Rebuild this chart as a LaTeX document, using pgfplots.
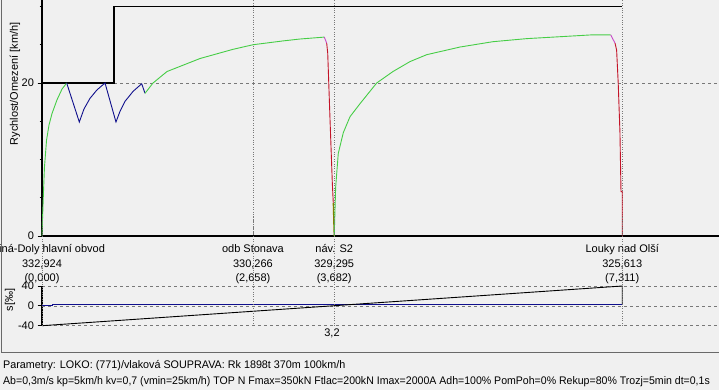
\documentclass[border=0pt]{standalone}
\usepackage{fontspec}
\setmainfont{Liberation Sans}
\usepackage{pgfplots}
\pgfplotsset{compat=1.18}
\definecolor{bg}{RGB}{240,240,240}
\definecolor{vgreen}{RGB}{70,205,70}
\definecolor{vblue}{RGB}{15,15,140}
\definecolor{vred}{RGB}{195,20,40}
\definecolor{vmag}{RGB}{200,70,200}
\definecolor{volive}{RGB}{128,128,0}
\definecolor{gridc}{RGB}{120,120,120}
\definecolor{framec}{RGB}{105,105,105}
\begin{document}
\begin{tikzpicture}[font=\fontsize{11}{13}\selectfont]
\fill[bg] (-20pt,-20pt) rectangle (740pt,410pt);
% ---------------- speed panel ----------------
\begin{axis}[
  at={(42pt,154pt)}, anchor=south west, scale only axis,
  width=677pt, height=236pt,
  xmin=0, xmax=8.53, ymin=0, ymax=30.85,
  axis x line*=bottom, axis y line*=left,
  x axis line style={line width=2.2pt, -},
  y axis line style={line width=1.2pt, -},
  xtick={0,2.658,3.682,7.311}, xticklabels={},
  xmajorgrids, major x grid style={gridc, dotted},
  x tick style={draw=none},
  ytick={0,20}, yticklabels={0,20}, minor ytick={5,10,15,25,30},
  tick align=outside, y tick style={black, line width=0.8pt},
  major tick length=4.5pt, minor tick length=2.5pt,
  extra y ticks={20}, extra y tick labels={},
  extra y tick style={grid=major, major grid style={gridc, dash pattern=on 3pt off 3pt}},
  clip=false,
  tick label style={font=\fontsize{11}{13}\selectfont},
]
% speed limit
\addplot[black, line width=1.5pt] coordinates {(0,20)(0.908,20)(0.908,30)(7.311,30)};
% run from start
\addplot[vgreen, line width=0.9pt] coordinates {
(0,0)(0.006,2)(0.016,5)(0.031,9)(0.057,12.5)(0.088,14.5)(0.126,16)(0.189,17.8)(0.252,19.2)(0.311,20)};
\addplot[vblue, line width=0.9pt] coordinates {
(0.311,20)(0.470,14.9)(0.529,16.6)(0.605,18.0)(0.693,19.1)(0.794,20)
(0.932,14.9)(0.983,16.3)(1.046,17.6)(1.147,18.9)(1.256,19.9)(1.298,18.65)};
\addplot[vgreen, line width=0.9pt] coordinates {
(1.298,18.65)(1.399,20)(1.575,21.5)(1.991,23.2)(2.406,24.4)(2.658,25.0)(3.036,25.5)(3.251,25.75)(3.557,26.0)};
\addplot[vmag, line width=0.9pt] coordinates {(3.557,26.0)(3.587,25.2)};
\addplot[vred, line width=0.9pt] coordinates {(3.587,25.2)(3.600,23.9)(3.629,15.2)(3.658,6.9)(3.670,4.3)};
\addplot[volive, line width=1.2pt] coordinates {(3.670,4.3)(3.678,1.2)(3.682,0)};
% run after stop
\addplot[vgreen, line width=0.9pt] coordinates {
(3.682,0)(3.700,6.4)(3.733,10.8)(3.796,13.5)(3.881,15.6)(4.007,17.3)(4.217,20.0)(4.422,21.5)
(4.637,22.8)(4.847,23.7)(5.266,24.7)(5.682,25.4)(6.107,25.8)(6.526,26.05)(6.942,26.3)(7.165,26.3)};
\addplot[vmag, line width=0.9pt] coordinates {(7.165,26.3)(7.220,25.2)};
\addplot[vred, line width=0.9pt] coordinates {(7.220,25.2)(7.240,24.3)(7.260,20.0)(7.282,13.5)(7.295,5.8)(7.311,5.8)(7.311,0)};
% station labels
\node[anchor=base west, inner sep=0pt] at (axis cs:0,0) [xshift=-43pt, yshift=-17pt] {iná-Doly hlavní obvod};
\node[anchor=base, inner sep=0pt] at (axis cs:0,0) [yshift=-32pt] {332,924};
\node[anchor=base, inner sep=0pt] at (axis cs:0,0) [yshift=-46pt] {(0,000)};
\node[anchor=base, inner sep=0pt] at (axis cs:2.658,0) [yshift=-17pt] {odb Stonava};
\node[anchor=base, inner sep=0pt] at (axis cs:2.658,0) [yshift=-32pt] {330,266};
\node[anchor=base, inner sep=0pt] at (axis cs:2.658,0) [yshift=-46pt] {(2,658)};
\node[anchor=base, inner sep=0pt] at (axis cs:3.682,0) [yshift=-17pt] {náv. S2};
\node[anchor=base, inner sep=0pt] at (axis cs:3.682,0) [yshift=-32pt] {329,295};
\node[anchor=base, inner sep=0pt] at (axis cs:3.682,0) [yshift=-46pt] {(3,682)};
\node[anchor=base, inner sep=0pt] at (axis cs:7.311,0) [yshift=-17pt] {Louky nad Olší};
\node[anchor=base, inner sep=0pt] at (axis cs:7.311,0) [yshift=-32pt] {325,613};
\node[anchor=base, inner sep=0pt] at (axis cs:7.311,0) [yshift=-46pt] {(7,311)};
\end{axis}
\node[rotate=90] at (15pt,306pt) {Rychlost/Omezení [km/h]};
% ---------------- gradient panel ----------------
\begin{axis}[
  at={(42pt,64.3pt)}, anchor=south west, scale only axis,
  width=677pt, height=39.7pt,
  xmin=0, xmax=8.53, ymin=-40, ymax=40,
  axis x line=none, axis y line*=left,
  y axis line style={line width=1.2pt, -},
  ytick={-40,0,40}, yticklabels={-40,0,40},
  ymajorgrids, major y grid style={gridc, dash pattern=on 3pt off 3pt},
  tick align=outside, y tick style={black, line width=0.8pt},
  major tick length=4.5pt,
  clip=false,
  tick label style={font=\fontsize{11}{13}\selectfont},
]
\addplot[vblue, line width=0.9pt] coordinates {(0,0)(0.126,0)(0.126,2)(0.378,2)(0.378,3.4)(7.311,3.4)};
\addplot[black, line width=0.9pt] coordinates {(0,-40)(3.682,0.3)(7.311,40)(7.311,3.4)};
\draw[gridc, dotted] (axis cs:0,-40) -- (axis cs:0,40) -- ++(0,50pt);
\draw[gridc, dotted] (axis cs:2.658,-40) -- (axis cs:2.658,40) -- ++(0,50pt);
\draw[gridc, dotted] (axis cs:3.682,-40) -- (axis cs:3.682,40) -- ++(0,50pt);
\draw[gridc, dotted] (axis cs:7.311,-40) -- (axis cs:7.311,40) -- ++(0,50pt);
\node[anchor=north, inner sep=0pt] at (axis cs:3.654,-40) [yshift=-3pt] {3,2};
\end{axis}
\node[rotate=90] at (10pt,90pt) {s[‰]};
\draw[framec, line width=1pt] (1pt,390pt) -- (1pt,37.5pt) -- (719pt,37.5pt);
\node[anchor=base west, inner sep=0pt] at (3pt,21pt) {\scalebox{0.98}[1]{Parametry: LOKO: (771)/vlaková SOUPRAVA: Rk 1898t 370m 100km/h}};
\node[anchor=base west, inner sep=0pt] at (3pt,5pt) {\scalebox{0.96}[1]{Ab=0,3m/s kp=5km/h kv=0,7 (vmin=25km/h) TOP N Fmax=350kN Ftlac=200kN Imax=2000A Adh=100\% PomPoh=0\% Rekup=80\% Trozj=5min dt=0,1s}};
\pgfresetboundingbox
\path[use as bounding box] (0pt,0pt) rectangle (719pt,390pt);
\end{tikzpicture}
\end{document}
